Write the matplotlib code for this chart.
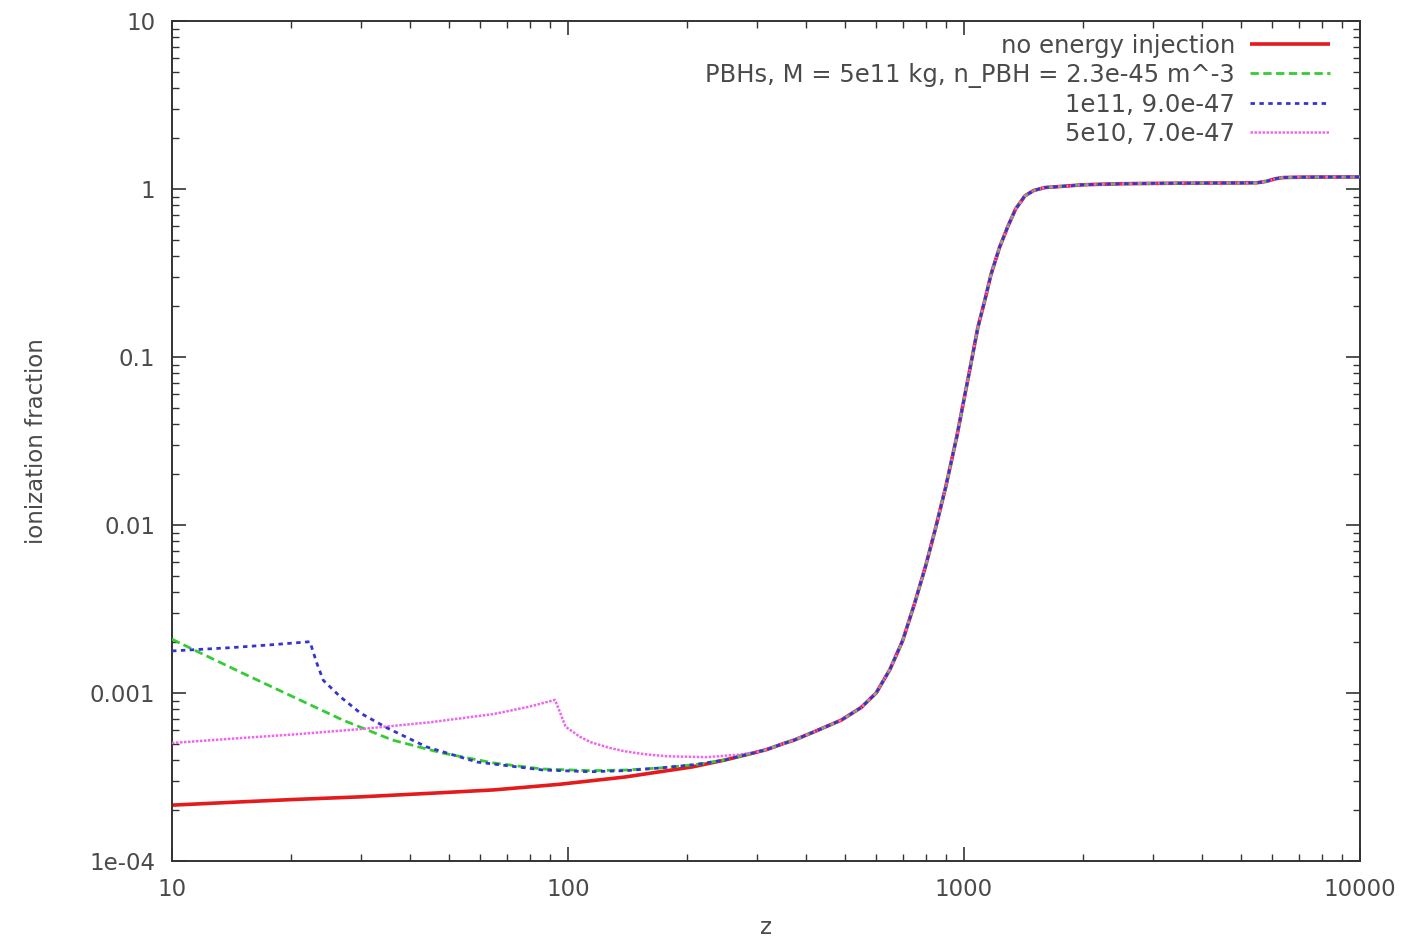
import matplotlib
matplotlib.use("Agg")
import matplotlib.pyplot as plt
import numpy as np
from matplotlib.ticker import LogLocator, FixedLocator, NullFormatter

# ---------------- data ----------------
# shared high-redshift part (all curves coincide there)
tail_z = [300, 317, 350, 373, 420, 490, 550, 600, 650, 700, 750, 800, 845, 900,
          960, 1003, 1040, 1084, 1130, 1170, 1230, 1291, 1350, 1425, 1500, 1600,
          1800, 2000, 2500, 3000, 4000, 5000, 5500, 5800, 6100, 6400, 7000, 8000, 10000]
tail_y = [4.45e-4, 4.6e-4, 5.0e-4, 5.25e-4, 5.9e-4, 6.9e-4, 8.2e-4, 1.0e-3, 1.38e-3,
          2.05e-3, 3.4e-3, 5.7e-3, 9.3e-3, 0.017, 0.034, 0.058, 0.09, 0.15, 0.22, 0.31,
          0.45, 0.6, 0.76, 0.91, 0.98, 1.02, 1.04, 1.06, 1.075, 1.08, 1.085, 1.087, 1.09,
          1.11, 1.15, 1.17, 1.175, 1.178, 1.18]

# no energy injection (low-z part)
red_z = [10, 15, 20, 30, 45, 65, 95, 139, 171, 206, 250]
red_y = [2.15e-4, 2.25e-4, 2.32e-4, 2.41e-4, 2.53e-4, 2.65e-4, 2.86e-4, 3.16e-4,
         3.4e-4, 3.63e-4, 4.0e-4]

# PBHs, M = 5e11 kg
green_z = [10, 11.8, 15.1, 20.2, 27, 36, 48, 65, 86, 114, 140, 171, 210, 250]
green_y = [2.09e-3, 1.73e-3, 1.31e-3, 9.5e-4, 6.9e-4, 5.25e-4, 4.4e-4, 3.83e-4,
           3.53e-4, 3.45e-4, 3.48e-4, 3.58e-4, 3.75e-4, 4.0e-4]

# 1e11
blue_z = [10, 14, 18, 22.3, 23.2, 24.1, 26.6, 29.9, 34.9, 44, 59, 86.5, 114, 140,
          171, 210, 250]
blue_y = [1.78e-3, 1.86e-3, 1.94e-3, 2.02e-3, 1.51e-3, 1.19e-3, 9.5e-4, 7.6e-4,
          6.2e-4, 4.77e-4, 3.88e-4, 3.48e-4, 3.4e-4, 3.45e-4, 3.58e-4, 3.75e-4, 4.0e-4]

# 5e10
mag_z = [10, 15, 20, 30, 45, 65, 80, 92.7, 95, 98.6, 107, 114, 128, 139, 155, 178,
         224, 272]
mag_y = [5.04e-4, 5.4e-4, 5.65e-4, 6.1e-4, 6.7e-4, 7.5e-4, 8.3e-4, 9.1e-4, 7.9e-4,
         6.3e-4, 5.5e-4, 5.1e-4, 4.7e-4, 4.5e-4, 4.33e-4, 4.2e-4, 4.15e-4, 4.3e-4]

labels = ["no energy injection",
          "PBHs, M = 5e11 kg, n_PBH = 2.3e-45 m^-3",
          "1e11, 9.0e-47",
          "5e10, 7.0e-47"]

x_ticks = [10, 100, 1000, 10000]
x_ticklabels = ["10", "100", "1000", "10000"]
y_ticks = [1e-4, 1e-3, 1e-2, 1e-1, 1, 10]
y_ticklabels = ["1e-04", "0.001", "0.01", "0.1", "1", "10"]

# ---------------- figure ----------------
plt.rcParams['font.family'] = ['DejaVu Sans']
txt = '#4a4a4a'
axc = '#333333'

W, H = 1409, 938
fig = plt.figure(figsize=(W/100, H/100), dpi=100)
L, R, T, B = 172, 1360, 21, 861
ax = fig.add_axes([L/W, 1-B/H, (R-L)/W, (B-T)/H])

def full(z, y):
    zz = list(z) + [t for t in tail_z if t > z[-1]]
    yy = list(y) + [v for t, v in zip(tail_z, tail_y) if t > z[-1]]
    return zz, yy

zr, yr = full(red_z, red_y)
zg, yg = full(green_z, green_y)
zb, yb = full(blue_z, blue_y)
zm, ym = full(mag_z, mag_y)

ax.plot(zr, yr, color='#e41a1c', lw=2.6, solid_capstyle='butt', label=labels[0], zorder=2)
ax.plot(zg, yg, color='#33cc33', lw=2.0, dashes=(3.0, 1.6), label=labels[1], zorder=3)
ax.plot(zb, yb, color='#3535cc', lw=2.0, dashes=(1.6, 1.6), label=labels[2], zorder=5)
ax.plot(zm, ym, color='#ee66ee', lw=1.8, dashes=(1.0, 0.6), label=labels[3], zorder=4)

ax.set_xscale('log')
ax.set_yscale('log')
ax.set_xlim(10, 10000)
ax.set_ylim(1e-4, 10)

ax.xaxis.set_major_locator(FixedLocator(x_ticks))
ax.set_xticklabels(x_ticklabels)
ax.yaxis.set_major_locator(FixedLocator(y_ticks))
ax.set_yticklabels(y_ticklabels)
ax.xaxis.set_minor_locator(LogLocator(base=10, subs=np.arange(2, 10)))
ax.yaxis.set_minor_locator(LogLocator(base=10, subs=np.arange(2, 10)))
ax.xaxis.set_minor_formatter(NullFormatter())
ax.yaxis.set_minor_formatter(NullFormatter())

ax.tick_params(which='both', direction='in', top=True, right=True, colors=axc,
               labelcolor=txt, labelsize=16.5)
ax.tick_params(which='major', length=10, width=1.2, pad=12)
ax.tick_params(which='minor', length=5, width=1.0)
for s in ax.spines.values():
    s.set_color(axc)
    s.set_linewidth(1.4)

ax.set_xlabel('z', fontsize=16.5, color=txt, labelpad=11)
ax.set_ylabel('ionization fraction', fontsize=16.5, color=txt, labelpad=30)

ax_x = (1330 - L) / (R - L)
ax_y = (B - 34) / (B - T)
leg = ax.legend(loc='upper right', bbox_to_anchor=(ax_x, ax_y), frameon=False,
                markerfirst=False, fontsize=17.5, handlelength=3.3,
                handletextpad=0.6, labelspacing=0.2, borderaxespad=0.0,
                borderpad=0.0)
for t in leg.get_texts():
    t.set_color(txt)

fig.savefig('out.png', dpi=100, facecolor='white')
